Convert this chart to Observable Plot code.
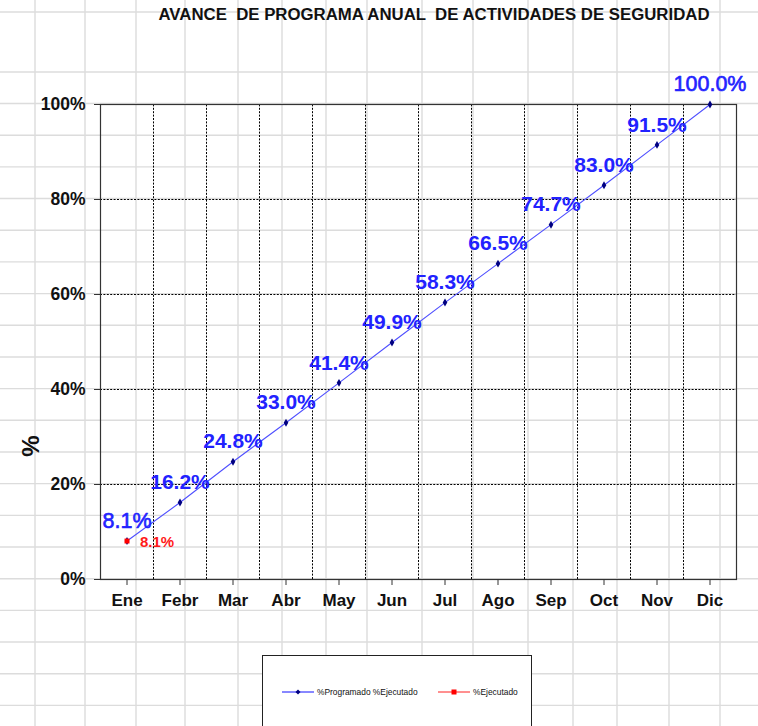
<!DOCTYPE html>
<html>
<head>
<meta charset="utf-8">
<script src="https://cdn.jsdelivr.net/npm/d3@7"></script>
<script src="https://cdn.jsdelivr.net/npm/@observablehq/plot@0.6"></script>
<style>
  html, body { margin: 0; padding: 0; background: #fff; }
  #page { position: relative; width: 758px; height: 726px; overflow: hidden; font-family: "Liberation Sans", Arial, sans-serif; }
  #bg { position: absolute; left: 0; top: 0; }
  #title { position: absolute; left: 0; width: 868px; top: 5px; text-align: center; font-weight: bold; font-size: 16.8px; white-space: pre; color: #111; }
  #chart { position: absolute; left: 0; top: 0; }
  #legend { position: absolute; left: 262px; top: 655px; width: 270px; height: 90px; background: #fff; border: 1px solid #222; box-sizing: border-box; }
  .lg { position: absolute; top: 31px; display: flex; align-items: center; font-size: 8.4px; color: #111; }
  .lg svg { margin-right: 3px; }
</style>
</head>
<body>
<div id="page">
  <svg id="bg" width="758" height="726"></svg>
  <div id="title">AVANCE  DE PROGRAMA ANUAL  DE ACTIVIDADES DE SEGURIDAD</div>
  <div id="chart"></div>
  <div id="legend">
    <div class="lg" style="left:19px"><svg width="32" height="8"><line x1="0" y1="4" x2="32" y2="4" stroke="#1010ff" stroke-width="1"/><path d="M16,1.5L18.5,4L16,6.5L13.5,4Z" fill="#000080"/></svg><span>%Programado %Ejecutado</span></div>
    <div class="lg" style="left:175px"><svg width="32" height="8"><line x1="0" y1="4" x2="32" y2="4" stroke="#ff2020" stroke-width="1"/><rect x="13.5" y="1.5" width="5" height="5" fill="#ff0000"/></svg><span>%Ejecutado</span></div>
  </div>
</div>
<script>
// ---- Data ----
const months = ["Ene", "Febr", "Mar", "Abr", "May", "Jun", "Jul", "Ago", "Sep", "Oct", "Nov", "Dic"];
const programado = [8.1, 16.2, 24.8, 33.0, 41.4, 49.9, 58.3, 66.5, 74.7, 83.0, 91.5, 100.0];
const ejecutado = [8.1];
const yTicks = [0, 20, 40, 60, 80, 100];

// ---- Spreadsheet cell grid (page decoration only) ----
const sheetCols = [35, 85, 136, 185, 238, 282, 326, 367, 422, 473, 528, 573, 617, 669, 720];
const sheetRows = [12, 72].concat(d3.range(20).map(k => 103.5 + k * 31.68));
const bg = d3.select("#bg");
bg.selectAll("line.c").data(sheetCols).join("line")
  .attr("x1", d => d).attr("x2", d => d).attr("y1", 0).attr("y2", 726)
  .attr("stroke", "#dcdcdc").attr("stroke-width", 1.4);
bg.selectAll("line.r").data(sheetRows).join("line")
  .attr("y1", d => d).attr("y2", d => d).attr("x1", 0).attr("x2", 758)
  .attr("stroke", "#dcdcdc").attr("stroke-width", 1.4);

// ---- Chart ----
const prog = months.map((m, i) => ({i, m, v: programado[i]}));
const ejec = ejecutado.map((v, i) => ({i, m: months[i], v}));
const idx = months.map((m, i) => i);
const bounds = idx.slice(1).map(i => i - 0.5);
const last = months.length - 1;
const dash = "2,1.4";
const isEnd = d => d.i === 0 || d.i === last;

const plot = Plot.plot({
  width: 758,
  height: 620,
  marginTop: 104,
  marginBottom: 41,
  marginLeft: 100,
  marginRight: 22,
  style: {background: "transparent", overflow: "visible", fontFamily: "'Liberation Sans', Arial, sans-serif", color: "#222"},
  x: {type: "linear", domain: [-0.5, months.length - 0.5], label: null},
  y: {domain: [0, 100], label: null},
  marks: [
    Plot.ruleY(yTicks.filter(t => t > 0 && t < 100), {stroke: "#000", strokeWidth: 1, strokeDasharray: dash}),
    Plot.ruleX(bounds, {y1: 0, y2: 100, stroke: "#000", strokeWidth: 1, strokeDasharray: dash}),
    Plot.frame({stroke: "#333", strokeWidth: 1.2}),
    Plot.axisY({ticks: yTicks, tickFormat: d => d + "%", tickSize: 6, tickPadding: 9, fontSize: 17.5, fontWeight: "bold", stroke: "#333", fill: "#111"}),
    Plot.axisX({ticks: idx, tickFormat: i => months[i], tickSize: 6, tickPadding: 8, fontSize: 17, fontWeight: "bold", stroke: "#333", fill: "#111"}),
    Plot.line(prog, {x: "i", y: "v", stroke: "#4f4fff", strokeWidth: 1.1}),
    Plot.dot(prog, {x: "i", y: "v", symbol: "diamond", r: 2.4, fill: "#000080", stroke: "none"}),
    Plot.text(prog.filter(d => !isEnd(d)), {x: "i", y: "v", text: d => d.v.toFixed(1) + "%", dy: -20, fill: "#2222ff", fontSize: 21, fontWeight: "bold"}),
    Plot.text(prog.filter(isEnd), {x: "i", y: "v", text: d => d.v.toFixed(1) + "%", dy: -20, fill: "#2222ff", stroke: "#2222ff", strokeWidth: 0.6, fontSize: 21.5, fontWeight: "normal"}),
    Plot.dot(ejec, {x: "i", y: "v", symbol: "square", r: 2.8, fill: "#ff0000", stroke: "none"}),
    Plot.text(ejec, {x: "i", y: "v", text: d => d.v.toFixed(1) + "%", dx: 13, dy: 1, textAnchor: "start", fill: "#ff1a1a", fontSize: 15, fontWeight: "bold"})
  ]
});
document.getElementById("chart").appendChild(plot);

// y-axis title "%"
d3.select(plot).append("text")
  .attr("transform", "translate(31,446) rotate(-90)")
  .attr("text-anchor", "middle").attr("dy", "0.35em")
  .attr("font-size", 24).attr("font-weight", "bold").attr("fill", "#111")
  .text("%");
</script>
</body>
</html>
